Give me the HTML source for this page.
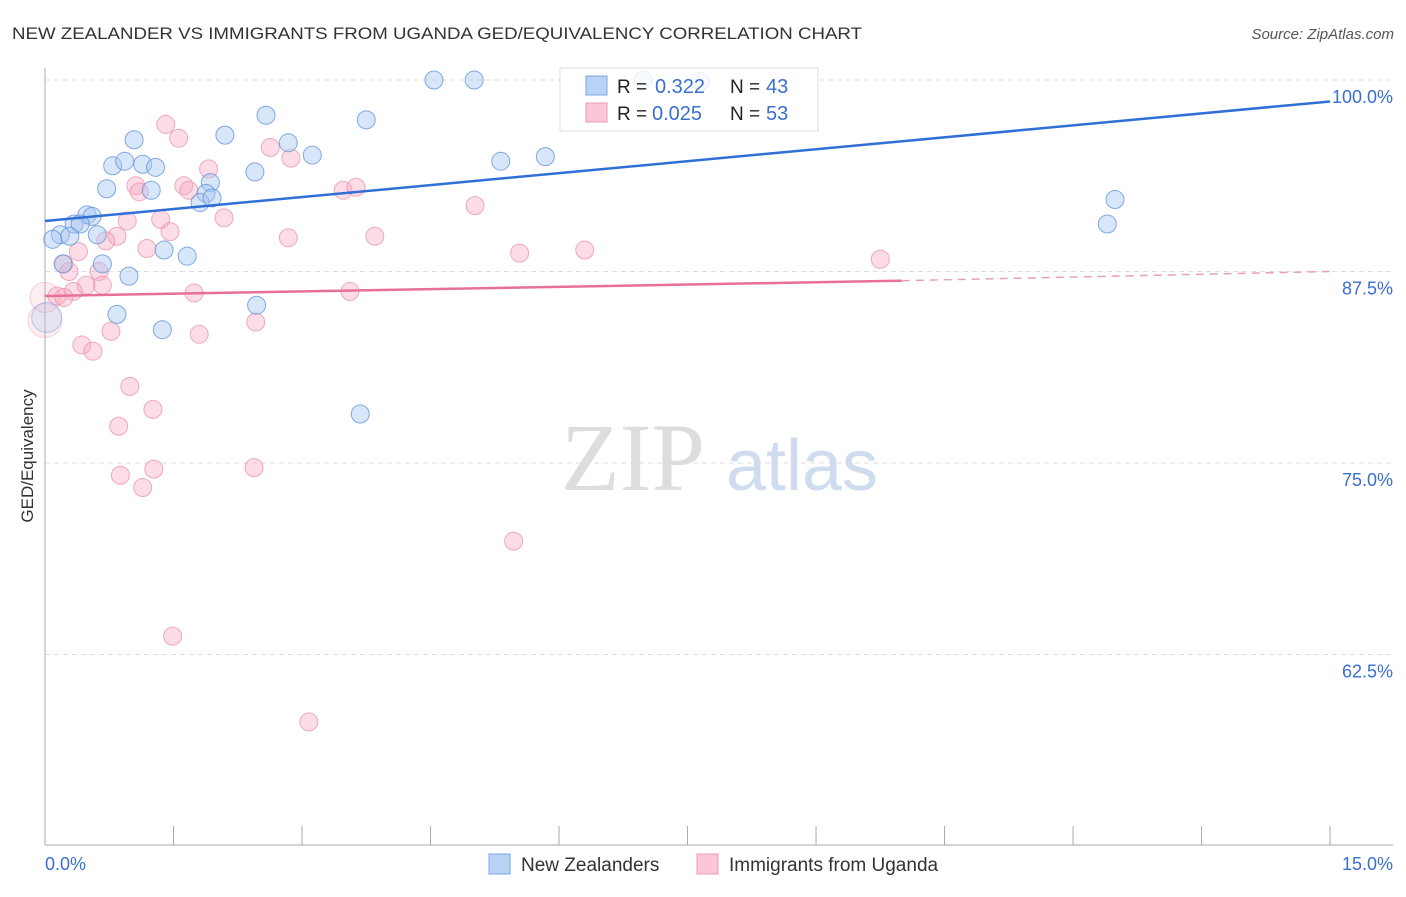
<!DOCTYPE html>
<html><head><meta charset="utf-8"><style>
body{margin:0;background:#fff;font-family:"Liberation Sans",sans-serif;}
</style></head><body>
<svg width="1406" height="892" xmlns="http://www.w3.org/2000/svg">
<text x="12" y="39" font-size="17" fill="#333" textLength="850" lengthAdjust="spacingAndGlyphs">NEW ZEALANDER VS IMMIGRANTS FROM UGANDA GED/EQUIVALENCY CORRELATION CHART</text>
<text x="1394" y="39" font-size="15" fill="#555" font-style="italic" text-anchor="end">Source: ZipAtlas.com</text>
<g><text x="633" y="490" font-size="96" font-family="Liberation Serif" fill="#ddd" text-anchor="middle">ZIP</text><text x="802" y="490" font-size="72" fill="#cfdcf0" text-anchor="middle">atlas</text></g>
<g id="grid"></g><g id="axes"></g>
<text x="33" y="456" font-size="17" fill="#333" text-anchor="middle" transform="rotate(-90 33 456)">GED/Equivalency</text>
<g id="pts"></g><g id="trend"></g>
<g>
<rect x="560" y="68" width="258" height="63" fill="#fff" fill-opacity="0.8" stroke="#ddd"/>
<rect x="586" y="76" width="21" height="19" fill="#b8d3f5" stroke="#7aa6e0"/>
<rect x="586" y="103" width="21" height="19" fill="#fbc7d6" stroke="#ec98b2"/>
<text x="617" y="93" font-size="19" fill="#222">R =</text><text x="655" y="93" font-size="20" fill="#3a6fd0">0.322</text>
<text x="730" y="93" font-size="19" fill="#222">N =</text><text x="766" y="93" font-size="20" fill="#3a6fd0">43</text>
<text x="617" y="120" font-size="19" fill="#222">R =</text><text x="652" y="120" font-size="20" fill="#3a6fd0">0.025</text>
<text x="730" y="120" font-size="19" fill="#222">N =</text><text x="766" y="120" font-size="20" fill="#3a6fd0">53</text>
</g>
<g>
<rect x="489" y="854" width="21" height="20" fill="#b8d3f5" stroke="#7aa6e0"/><text x="521" y="871" font-size="19" fill="#333">New Zealanders</text>
<rect x="697" y="854" width="21" height="20" fill="#fbc7d6" stroke="#ec98b2"/><text x="729" y="871" font-size="19" fill="#333">Immigrants from Uganda</text>
</g>
</svg>
<script>
const blueX=[4.54,5.01,6.98,7.65,2.58,3.75,1.04,2.1,2.84,3.12,5.32,5.84,0.79,0.93,1.14,1.29,2.45,0.72,1.24,1.93,1.88,1.81,1.95,12.49,12.4,0.49,0.55,0.34,0.41,0.18,0.09,0.29,0.61,1.39,1.66,0.21,0.67,0.98,2.47,0.84,1.37,3.68,0.02];
const blueY=[100.0,100.0,100.0,99.9,97.7,97.4,96.1,96.4,95.9,95.1,94.7,95.0,94.4,94.7,94.5,94.3,94.0,92.9,92.8,93.3,92.6,92.0,92.3,92.2,90.6,91.2,91.1,90.6,90.6,89.9,89.6,89.8,89.9,88.9,88.5,88.0,88.0,87.2,85.3,84.7,83.7,78.2,84.5];
const blueR=[9,9,9,9,9,9,9,9,9,9,9,9,9,9,9,9,9,9,9,9,9,9,9,9,9,9,9,9,9,9,9,9,9,9,9,9,9,9,9,9,9,9,15];
const pinkX=[1.41,1.56,2.63,2.87,1.91,1.06,1.62,1.1,1.68,3.48,3.63,5.02,2.09,0.96,1.35,1.46,0.84,0.71,2.84,3.85,1.19,0.39,5.54,6.3,9.75,0.22,0.28,0.63,0.48,0.67,0.33,0.14,0.22,1.74,3.56,0.0,0.0,2.46,0.77,1.8,0.43,0.56,0.99,1.26,0.86,0.88,1.27,1.14,2.44,5.47,1.49,3.08];
const pinkY=[97.1,96.2,95.6,94.9,94.2,93.1,93.1,92.7,92.8,92.8,93.0,91.8,91.0,90.8,90.9,90.1,89.8,89.5,89.7,89.8,89.0,88.8,88.7,88.9,88.3,88.0,87.5,87.5,86.6,86.6,86.2,85.9,85.8,86.1,86.2,85.8,84.3,84.2,83.6,83.4,82.7,82.3,80.0,78.5,77.4,74.2,74.6,73.4,74.7,69.9,63.7,58.1];
const pinkR=[9,9,9,9,9,9,9,9,9,9,9,9,9,9,9,9,9,9,9,9,9,9,9,9,9,9,9,9,9,9,9,9,9,9,9,15,17,9,9,9,9,9,9,9,9,9,9,9,9,9,9,9];
const yTicks=[100,87.5,75,62.5];
const yTickLabels=["100.0%","87.5%","75.0%","62.5%"];
const blueTrend=[[0,90.8],[15,98.6]];
const pinkTrendSolid=[[0,85.9],[10,86.9]];
const pinkTrendDash=[[10,86.9],[15,87.5]];
const NS="http://www.w3.org/2000/svg";
const X=v=>45+v*85.67, Y=v=>80+(100-v)*15.32;
function mk(t,a,p){const e=document.createElementNS(NS,t);for(const k in a)e.setAttribute(k,a[k]);p.appendChild(e);return e;}
const grid=document.getElementById('grid');
yTicks.forEach((t,i)=>{
 const l=mk('line',{x1:45,x2:1393,y1:Y(t),y2:Y(t),stroke:'#ddd','stroke-dasharray':'5,4'},grid);
 
 
 const tx=mk('text',{x:1393,y:Y(t)+23,'font-size':18,fill:'#3a6fd0','text-anchor':'end'},grid);
 tx.textContent=yTickLabels[i];
 
 
});
const ax=document.getElementById('axes');
mk('line',{x1:45,x2:45,y1:68,y2:845,stroke:'#aaa'},ax);
mk('line',{x1:45,x2:1393,y1:845,y2:845,stroke:'#aaa'},ax);
for(let i=1;i<=10;i++){const l=mk('line',{x1:X(i*1.5),x2:X(i*1.5),y1:826,y2:845,stroke:'#aaa'},ax);
 
 }
let t0=mk('text',{x:45,y:870,'font-size':18,fill:'#3a6fd0'},ax);t0.textContent='0.0%';


let t1=mk('text',{x:1393,y:870,'font-size':18,fill:'#3a6fd0','text-anchor':'end'},ax);t1.textContent='15.0%';


const pts=document.getElementById('pts');
pinkX.forEach((v,i)=>{const big=pinkR[i]>10;const c=mk('circle',{cx:X(v),cy:Y(pinkY[i]),r:pinkR[i],fill:'#f7a8c0','fill-opacity':big?0.2:0.4,stroke:'#e98aa8','stroke-opacity':big?0.4:0.7},pts);
 
 });
blueX.forEach((v,i)=>{const big=blueR[i]>10;const c=mk('circle',{cx:X(v),cy:Y(blueY[i]),r:blueR[i],fill:'#a8c8f2','fill-opacity':big?0.25:0.45,stroke:'#5b8fd8','stroke-opacity':big?0.4:0.75},pts);
 
 });
const tr=document.getElementById('trend');
function ln(d,col,dash,name){const l=mk('line',{x1:X(d[0][0]),y1:Y(d[0][1]),x2:X(d[1][0]),y2:Y(d[1][1]),stroke:col,'stroke-width':dash?1.5:2.5},tr);
 if(dash)l.setAttribute('stroke-dasharray','8,6');
 
 }
ln(blueTrend,'#2f6fd6',false,'new-zealander-trend');
ln(pinkTrendSolid,'#e7709a',false,'uganda-trend');
ln(pinkTrendDash,'#e7a0b8',true,'uganda-trend-extension');
</script>
</body></html>
